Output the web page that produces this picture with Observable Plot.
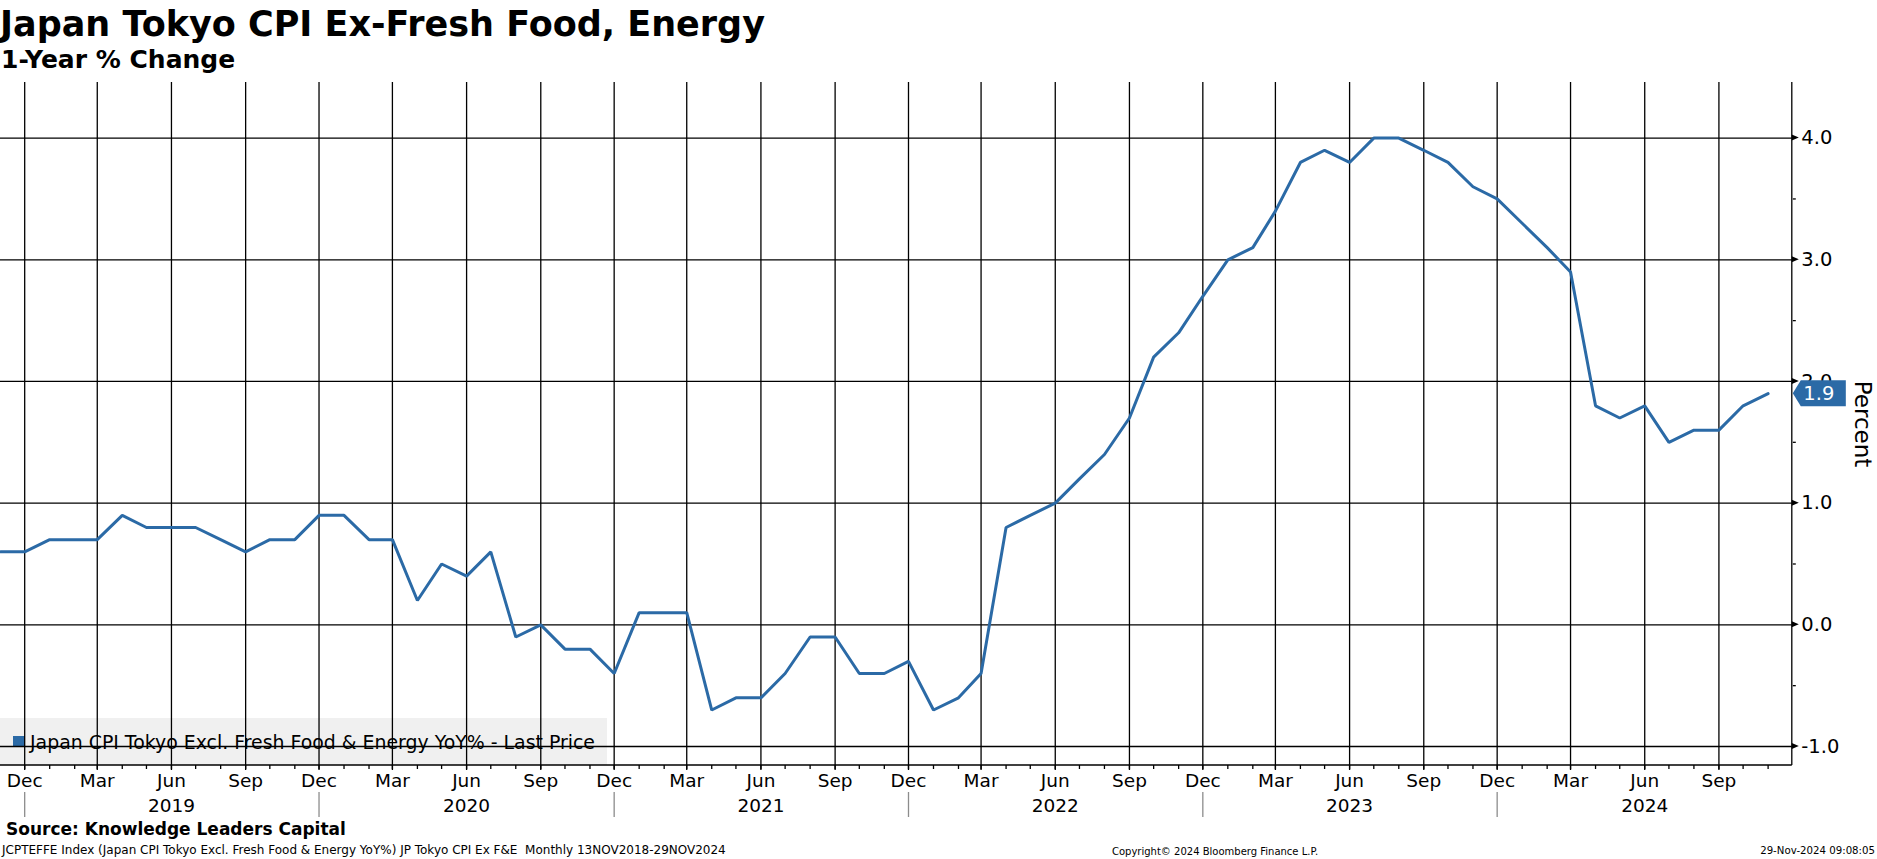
<!DOCTYPE html>
<html><head><meta charset="utf-8">
<script src="https://cdn.jsdelivr.net/npm/d3@7"></script>
<script src="https://cdn.jsdelivr.net/npm/@observablehq/plot@0.6"></script>
<style>
html,body{margin:0;padding:0;background:#fff;overflow:hidden;}
body{width:1877px;height:859px;position:relative;font-family:"DejaVu Sans",sans-serif;color:#000;}
.t{position:absolute;white-space:pre;line-height:1;}
#chart{position:absolute;left:0;top:60px;z-index:1;}
#chart svg{background:transparent;}
#legend{position:absolute;left:0;top:718px;width:607px;height:47px;background:#f0f0f0;z-index:0;}
#legend .sw{position:absolute;left:13px;top:18px;width:12px;height:11px;}
</style></head><body>
<div class="t" id="title" style="left:0;top:7px;font-size:35px;font-weight:bold;"></div>
<div class="t" id="subtitle" style="left:1px;top:47px;font-size:25px;font-weight:bold;"></div>
<div id="legend"><div class="sw"></div><div class="t" id="legtext" style="left:30px;top:14.5px;font-size:18.9px;"></div></div>
<div id="chart"></div>
<div class="t" id="source" style="left:6px;top:820.5px;font-size:17px;font-weight:bold;"></div>
<div class="t" id="footL" style="left:2px;top:843.8px;font-size:12px;"></div>
<div class="t" id="footM" style="left:1112px;top:846.5px;font-size:10px;"></div>
<div class="t" id="footR" style="right:2px;top:846.3px;font-size:10.2px;"></div>
<script>
// ---- data ----
const titleText = "Japan Tokyo CPI Ex-Fresh Food, Energy";
const subtitleText = "1-Year % Change";
const seriesName = "Japan CPI Tokyo Excl. Fresh Food & Energy YoY% - Last Price";
const sourceText = "Source: Knowledge Leaders Capital";
const footLeft = "JCPTEFFE Index (Japan CPI Tokyo Excl. Fresh Food & Energy YoY%) JP Tokyo CPI Ex F&E  Monthly 13NOV2018-29NOV2024";
const footMid = "Copyright\u00A9 2024 Bloomberg Finance L.P.";
const footRight = "29-Nov-2024 09:08:05";
const yAxisLabel = "Percent";

const firstMonth = "2018-11-01";
const endMonth = "2024-12-01";
// monthly values Nov 2018 .. Nov 2024
const values = [
  0.6, 0.6,
  0.7, 0.7, 0.7, 0.9, 0.8, 0.8, 0.8, 0.7, 0.6, 0.7, 0.7, 0.9,
  0.9, 0.7, 0.7, 0.2, 0.5, 0.4, 0.6, -0.1, 0.0, -0.2, -0.2, -0.4,
  0.1, 0.1, 0.1, -0.7, -0.6, -0.6, -0.4, -0.1, -0.1, -0.4, -0.4, -0.3,
  -0.7, -0.6, -0.4, 0.8, 0.9, 1.0, 1.2, 1.4, 1.7, 2.2, 2.4, 2.7,
  3.0, 3.1, 3.4, 3.8, 3.9, 3.8, 4.0, 4.0, 3.9, 3.8, 3.6, 3.5,
  3.3, 3.1, 2.9, 1.8, 1.7, 1.8, 1.5, 1.6, 1.6, 1.8, 1.9
];
const monthNames = ["Jan","Feb","Mar","Apr","May","Jun","Jul","Aug","Sep","Oct","Nov","Dec"];
const yearLabels = ["2019","2020","2021","2022","2023","2024"];
const yTicks = [-1, 0, 1, 2, 3, 4];
const yMinorTicks = [-0.5, 0.5, 1.5, 2.5, 3.5];
const yDomain = [-1.156, 4.457];

// ---- texts ----
document.getElementById("title").textContent = titleText;
document.getElementById("subtitle").textContent = subtitleText;
document.getElementById("legtext").textContent = seriesName;
document.getElementById("source").textContent = sourceText;
document.getElementById("footL").textContent = footLeft;
document.getElementById("footM").textContent = footMid;
document.getElementById("footR").textContent = footRight;

const blue = "#2b6aa6";
document.querySelector("#legend .sw").style.background = blue;

const start = new Date(firstMonth), end = new Date(endMonth);
const dates = d3.utcMonth.range(start, end);
const data = dates.map((date, i) => ({date, value: values[i]}));
const innerMonths = d3.utcMonth.range(d3.utcMonth.offset(start, 1), end);
const quarterTicks = innerMonths.filter(d => d.getUTCMonth() % 3 === 2);
const decTicks = quarterTicks.filter(d => d.getUTCMonth() === 11);
const juneTicks = yearLabels.map(y => new Date(`${y}-06-01`));

const W = 1877, H = 770, mT = 22, mB = 65, mL = 0, mR = 85.2;
const gridW = 1.3;

const chart = Plot.plot({
  width: W, height: H,
  marginTop: mT, marginBottom: mB, marginLeft: mL, marginRight: mR,
  x: {type: "utc", domain: [start, end], axis: null, label: null},
  y: {domain: yDomain, axis: null, label: null},
  style: {fontFamily: "DejaVu Sans", background: "transparent", color: "#000", overflow: "visible"},
  marks: [
    Plot.ruleY(yTicks, {y: d => d, stroke: "#000", strokeWidth: gridW}),
    Plot.ruleX(quarterTicks, {x: d => d, stroke: "#000", strokeWidth: gridW, insetBottom: -5}),
    Plot.axisX({ticks: innerMonths, tickSize: 4, tickFormat: () => "", label: null, strokeWidth: gridW, stroke: "#000"}),
    Plot.axisX({ticks: quarterTicks, tickSize: 0, tickPadding: 8, fontSize: 18.5, label: null,
      tickFormat: d => monthNames[d.getUTCMonth()]}),
    Plot.axisX({ticks: juneTicks, tickSize: 0, tickPadding: 33, fontSize: 18.5, label: null,
      tickFormat: d => yearLabels[yearLabels.indexOf(String(d.getUTCFullYear()))]}),
    Plot.ruleX(decTicks, {x: d => d, stroke: "#8c8c8c", strokeWidth: gridW, insetTop: (H - mT - mB) + 27, insetBottom: -52}),
    Plot.axisY({anchor: "right", ticks: yMinorTicks, tickSize: 3, tickFormat: () => "", label: null, strokeWidth: gridW, stroke: "#000"}),
    Plot.axisY({anchor: "right", ticks: yTicks, tickSize: 0, tickPadding: 9, fontSize: 19.5, label: null,
      tickFormat: d => d.toFixed(1)}),
    Plot.text([yAxisLabel], {frameAnchor: "right", textAnchor: "middle", rotate: 90, dx: 70, fontSize: 23}),
    Plot.line(data, {x: "date", y: "value", stroke: blue, strokeWidth: 3, strokeLinejoin: "miter"})
  ]
});
document.getElementById("chart").appendChild(chart);

// frame lines, tick arrows and last-value label positioned through Plot's scales
const ys = chart.scale("y");
const svg = d3.select(chart);
const xR = W - mR, yB = H - mB;
const g = svg.append("g");
g.append("line").attr("x1", mL).attr("x2", xR).attr("y1", yB).attr("y2", yB)
  .attr("stroke", "#000").attr("stroke-width", gridW);
g.append("line").attr("x1", xR).attr("x2", xR).attr("y1", mT).attr("y2", yB)
  .attr("stroke", "#000").attr("stroke-width", gridW);
for (const t of yTicks) {
  const y = ys.apply(t);
  g.append("path").attr("d", `M${xR},${y - 3}L${xR + 7},${y}L${xR},${y + 3}Z`).attr("fill", "#000");
}
const last = data[data.length - 1];
const ly = ys.apply(last.value);
g.append("path")
  .attr("d", `M${xR + 1},${ly}L${xR + 9},${ly - 13}H${xR + 54}V${ly + 13}H${xR + 9}Z`)
  .attr("fill", blue);
g.append("text").attr("x", xR + 27).attr("y", ly).attr("dy", "0.36em")
  .attr("text-anchor", "middle").attr("fill", "#fff")
  .attr("font-size", 19.5).attr("font-family", "DejaVu Sans")
  .text(last.value.toFixed(1));
</script>
</body></html>
